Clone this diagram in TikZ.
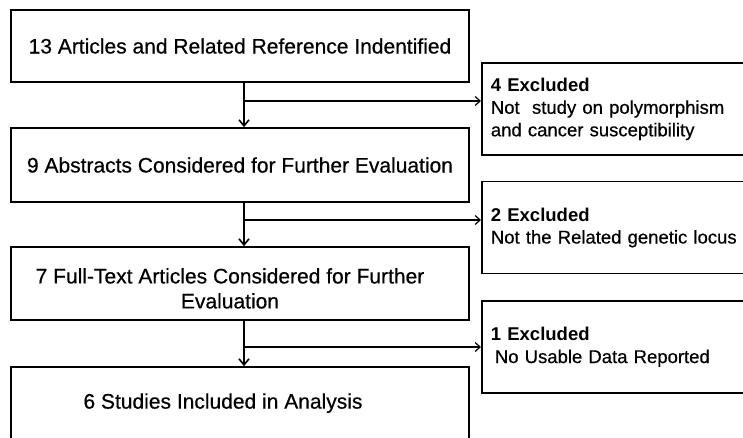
\documentclass[tikz,border=0pt]{standalone}
\usepackage{fontspec}
\setmainfont{Liberation Sans}
\newfontfamily\heavyfont{Liberation Sans}[FakeBold=0.5]
\usetikzlibrary{arrows.meta}
\begin{document}
\begin{tikzpicture}[x=1pt,y=-1pt,
  mainbox/.style={draw, line width=1.8pt, minimum width=458pt, inner sep=0pt, align=center, font=\heavyfont\fontsize{21}{25}\selectfont},
  sidebox/.style={draw, line width=1.8pt, minimum width=280pt, minimum height=92pt, inner xsep=9pt, inner ysep=0pt, text width=262pt, align=left, anchor=west, font=\heavyfont\fontsize{18.5}{22.5}\selectfont},
  downarrow/.style={line width=1.6pt, -{Straight Barb[length=6pt,width=10pt,line width=1.6pt]}},
  sidearrow/.style={line width=1.2pt, -{Straight Barb[length=5pt,width=9pt,line width=1.2pt]}}]
\useasboundingbox (0,0) rectangle (743,437);
\clip (0,0) rectangle (743,437);
\fill[white] (0,0) rectangle (743,437);

\node[mainbox, minimum height=72pt] (b1) at (240,46) {13 Articles and Related Reference Indentified};
\node[mainbox, minimum height=74pt] (b2) at (240,165) {9 Abstracts Considered for Further Evaluation};
\node[mainbox, minimum height=73pt] (b3) at (240,283.5) {\rule{0pt}{25pt}7 Full-Text Articles Considered for Further\hspace*{20pt}\\Evaluation\hspace*{20pt}};
\node[mainbox, minimum height=100pt, text depth=32pt] (b4) at (240,417) {6 Studies Included in Analysis\hspace*{34pt}};

\node[sidebox] (e1) at (481,109) {{\fontspec{Liberation Sans Bold}4 Excluded}\\Not\ \ study on polymorphism\\and cancer susceptibility};
\node[sidebox] (e2) at (481,227.5) {{\fontspec{Liberation Sans Bold}2 Excluded}\\Not the Related genetic locus};
\node[sidebox] (e3) at (481,347) {{\fontspec{Liberation Sans Bold}1 Excluded}\\\hspace*{4pt}No Usable Data Reported};

\coordinate (br1) at (244,101);
\coordinate (br2) at (244,220);
\coordinate (br3) at (244,347);

\draw[downarrow] (b1.south -| br1) -- (b2.north -| br1);
\draw[downarrow] (b2.south -| br2) -- (b3.north -| br2);
\draw[downarrow] (b3.south -| br3) -- (b4.north -| br3);

\draw[sidearrow] (br1) -- (br1 -| e1.west);
\draw[sidearrow] (br2) -- (br2 -| e2.west);
\draw[sidearrow] (br3) -- (br3 -| e3.west);
\end{tikzpicture}
\end{document}
